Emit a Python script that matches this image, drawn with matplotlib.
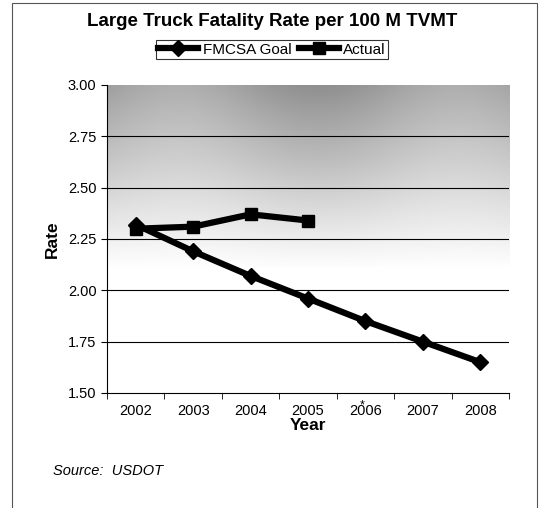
import numpy as np
import matplotlib
matplotlib.use("Agg")
import matplotlib.pyplot as plt
from matplotlib.patches import Rectangle

years = ["2002", "2003", "2004", "2005", "2006", "2007", "2008"]
goal = [2.32, 2.19, 2.07, 1.96, 1.85, 1.75, 1.65]
actual_years = ["2002", "2003", "2004", "2005"]
actual = [2.30, 2.31, 2.37, 2.34]
yticks = [1.50, 1.75, 2.00, 2.25, 2.50, 2.75, 3.00]

plt.rcParams['font.family'] = ['Liberation Sans', 'DejaVu Sans']

fig = plt.figure(figsize=(5.44, 5.08), dpi=100)
ax = fig.add_axes([0.1967, 0.2264, 0.739, 0.6063])

x = np.arange(len(years))
xa = np.arange(len(actual_years))

# background gradient (style only)
gy = np.linspace(0, 1, 300)[:, None]
gx = np.linspace(0, 1, 300)[None, :]
shade = 0.62 + 0.38 * np.clip(gy / 0.6, 0, 1) + 0.06 * np.sin(gx * 9.0) * (1 - np.clip(gy / 0.6, 0, 1))
shade = np.clip(shade, 0, 1)
ax.imshow(shade, cmap='gray', vmin=0, vmax=1, aspect='auto',
          extent=[-0.5, 6.5, 1.5, 3.0], origin='upper', zorder=0)

for yv in yticks[1:-1]:
    ax.axhline(yv, color='black', lw=0.8, zorder=1)

ax.plot(x, goal, color='black', lw=4.5, marker='D', ms=8, zorder=3, label='FMCSA Goal')
ax.plot(xa, actual, color='black', lw=4.5, marker='s', ms=8, zorder=3, label='Actual')

ax.set_xlim(-0.5, 6.5)
ax.set_ylim(1.5, 3.0)
ax.set_yticks(yticks)
ax.set_yticklabels([f"{v:.2f}" for v in yticks], fontsize=10.5)
ax.set_xticks(x)
ax.set_xticklabels(years, fontsize=10.5)
ax.set_xticks(np.arange(-0.5, 7, 1), minor=True)
ax.tick_params(axis='x', which='major', length=0, pad=8)
ax.tick_params(axis='x', which='minor', length=4, direction='out')
ax.tick_params(axis='y', length=4, direction='out')
for s in ['top', 'right']:
    ax.spines[s].set_visible(False)
ax.spines['left'].set_linewidth(0.8)
ax.spines['bottom'].set_linewidth(0.8)

ax.set_ylabel('Rate', fontsize=12.5, fontweight='bold', labelpad=6)
ax.set_xlabel('Year', fontsize=12.5, fontweight='bold', labelpad=0)

ax.annotate('*', xy=(4, 1.5), xytext=(-2, -9), textcoords='offset points',
            fontsize=9, ha='center', va='center', annotation_clip=False)

fig.text(0.5, 0.958, 'Large Truck Fatality Rate per 100 M TVMT', ha='center', va='center',
         fontsize=13.5, fontweight='bold')
leg = fig.legend(loc='center', bbox_to_anchor=(0.5, 0.902), ncol=2, fontsize=11,
                 frameon=True, fancybox=False, edgecolor='black', handlelength=2.6,
                 columnspacing=0.5, handletextpad=0.3, borderpad=0.15, borderaxespad=0)
leg.get_frame().set_linewidth(0.8)

fig.text(0.097, 0.073, 'Source:  USDOT', fontsize=10.5, style='italic', ha='left', va='center')

fig.patches.append(Rectangle((0.022, -0.01), 0.966, 1.004, transform=fig.transFigure,
                             fill=False, edgecolor='#555555', lw=0.8))

fig.savefig('out.png', dpi=100)
